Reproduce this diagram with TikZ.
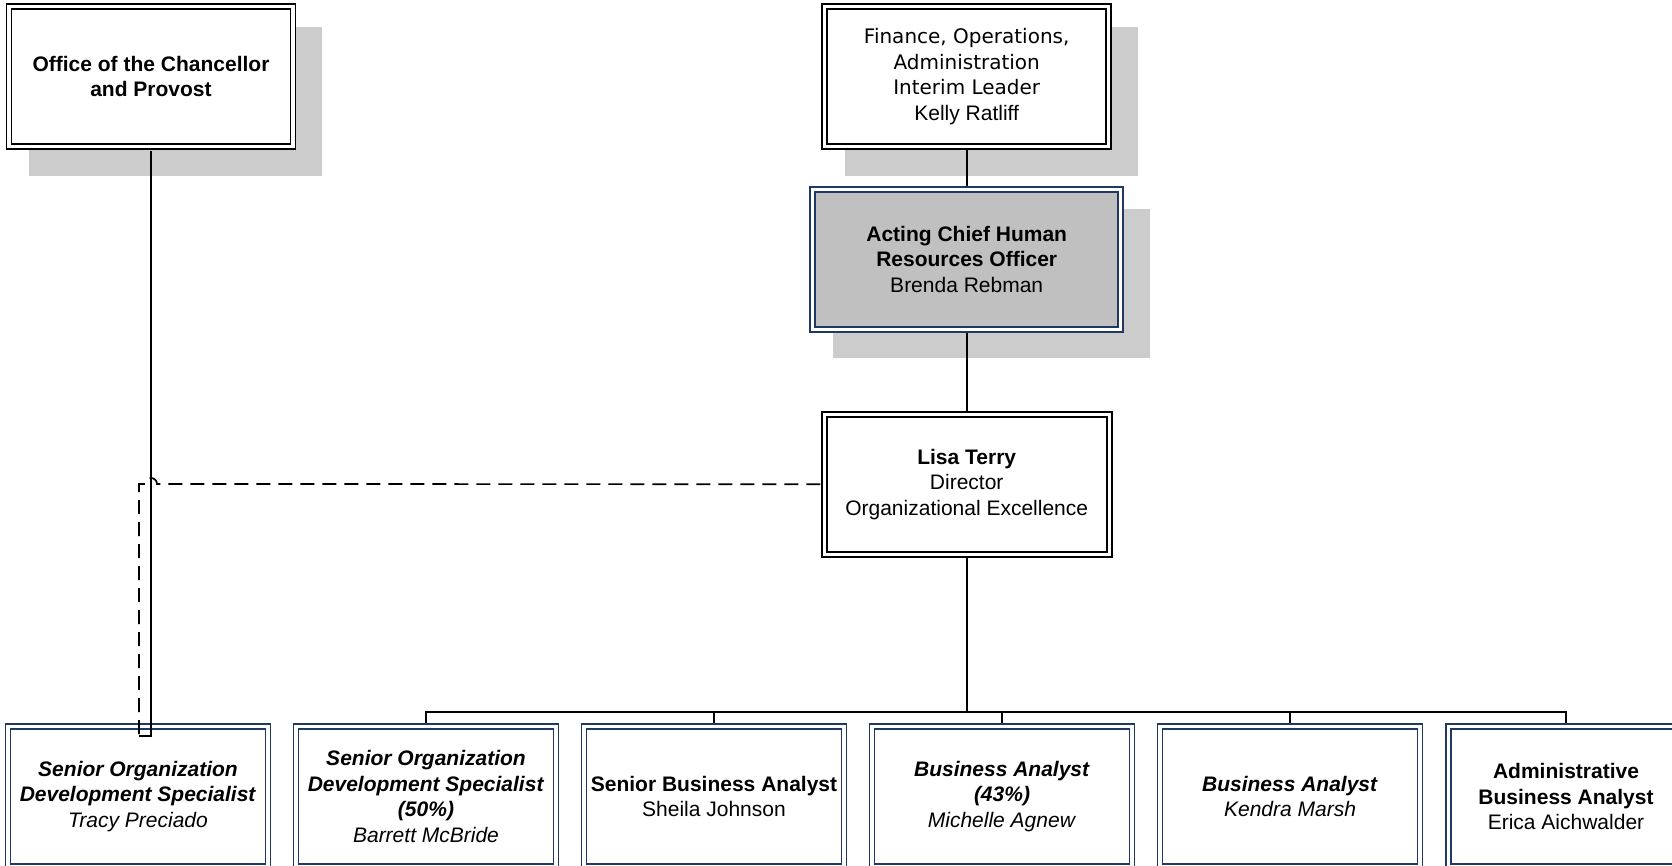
\documentclass[tikz,border=0pt]{standalone}
\usepackage{fontspec}
\setmainfont{Liberation Sans}
\newfontfamily\tahomafont{DejaVu Sans}
\usetikzlibrary{calc}
\pgfdeclarelayer{shadowl}
\pgfdeclarelayer{connl}
\pgfsetlayers{shadowl,connl,main}
\definecolor{navyc}{RGB}{31,56,100}
\definecolor{shadc}{RGB}{204,204,204}
\definecolor{actfill}{RGB}{192,192,192}
\newcommand\tahtext[1]{{\tahomafont\fontsize{20}{25.5}\selectfont #1}}
\newcommand\bi[1]{\textbf{\textit{#1}}}
\tikzset{
  orgbox/.style={draw=black, line width=1.9pt, double=white, double distance=3.1pt,
    fill=white, minimum height=140pt, inner sep=0pt, align=center,
    font=\fontsize{21}{25.5}\selectfont},
  bluebox/.style={orgbox, draw=navyc},
  conn/.style={draw=black, line width=1.7pt},
  dashc/.style={draw=black, line width=1.7pt, dash pattern=on 14pt off 8pt},
  shad/.style={fill=shadc}
}
\begin{document}
\begin{tikzpicture}[x=1pt,y=-1pt]
\useasboundingbox (0,0) rectangle (1672,865);
\begin{pgfonlayer}{shadowl}
\fill[white] (0,0) rectangle (1672,865);
\end{pgfonlayer}

% top nodes
\node[orgbox, minimum width=284pt] (office) at (151,76.7)
  {\textbf{Office of the Chancellor}\\\textbf{and Provost}};
\node[orgbox, minimum width=284.4pt] (fin) at (966.7,76.7)
  {\tahtext{Finance, Operations,}\\\tahtext{Administration}\\\tahtext{Interim Leader}\\Kelly Ratliff};
\node[bluebox, fill=actfill, minimum width=308.4pt] (acting) at (966.7,259.2)
  {\textbf{Acting Chief Human}\\\textbf{Resources Officer}\\Brenda Rebman};
\node[orgbox, minimum width=285pt] (lisa) at (966.7,484.2)
  {\textbf{Lisa Terry}\\Director\\Organizational Excellence};

% bottom nodes
\node[bluebox, minimum width=260pt] (b1) at (138,796.5)
  {\bi{Senior Organization}\\\bi{Development Specialist}\\\textit{Tracy Preciado}};
\node[bluebox, minimum width=260pt] (b2) at (426,796.5)
  {\bi{Senior Organization}\\\bi{Development Specialist}\\\bi{(50\%)}\\\textit{Barrett McBride}};
\node[bluebox, minimum width=260pt] (b3) at (714,796.5)
  {\textbf{Senior Business Analyst}\\Sheila Johnson};
\node[bluebox, minimum width=260pt] (b4) at (1002,796.5)
  {\bi{Business Analyst}\\\bi{(43\%)}\\\textit{Michelle Agnew}};
\node[bluebox, minimum width=260pt] (b5) at (1290,796.5)
  {\bi{Business Analyst}\\\textit{Kendra Marsh}};
\node[bluebox, minimum width=235.6pt] (b6) at (1566,796.5)
  {\textbf{Administrative}\\\textbf{Business Analyst}\\Erica Aichwalder};

% helper coordinates
\coordinate (bus) at (966.7,712);
\coordinate (hop) at (151,484);
\coordinate (dcorner) at (139,484);
\coordinate (dend) at (139,736);
\coordinate (send) at (151,736);

% shadows
\begin{pgfonlayer}{shadowl}
\fill[shad] ([shift={(21pt,-21pt)}]office.north west) rectangle ([shift={(28pt,-28pt)}]office.south east);
\fill[shad] ([shift={(21pt,-21pt)}]fin.north west) rectangle ([shift={(28pt,-28pt)}]fin.south east);
\fill[shad] ([shift={(21pt,-21pt)}]acting.north west) rectangle ([shift={(28pt,-28pt)}]acting.south east);
\end{pgfonlayer}

% connectors behind nodes
\begin{pgfonlayer}{connl}
\draw[conn] (fin.south) -- (acting.north);
\draw[conn] (acting.south) -- (lisa.north);
\draw[conn, line width=2.4pt] (lisa.south) -- (bus);
\draw[conn] (b2.north) |- (bus) -| (b6.north);
\draw[conn] (b3.north) -- (b3.north |- bus);
\draw[conn] (b4.north) -- (b4.north |- bus);
\draw[conn] (b5.north) -- (b5.north |- bus);
\end{pgfonlayer}

% connectors over the box of the first specialist
\draw[conn] ([yshift=-3pt]office.south) -- (send) -- (dend);
\draw[dashc] ([xshift=-3pt]lisa.west) -- ([xshift=6pt]hop)
  arc[start angle=0, end angle=180, radius=6pt] -- (dcorner) -- (dend);
\end{tikzpicture}
\end{document}
